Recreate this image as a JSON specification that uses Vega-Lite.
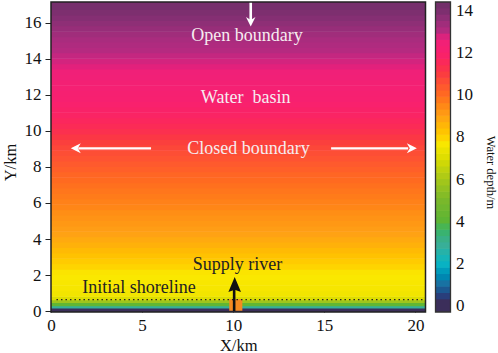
{
"$schema":"https://vega.github.io/schema/vega-lite/v6.json",
"background":"white",
"padding":{"left":2,"top":0,"right":0,"bottom":0},
"spacing":7.5,
"config":{"view":{"stroke":null},"font":"Liberation Serif","axis":{"labelFont":"Liberation Serif","titleFont":"Liberation Serif","grid":false,"labelOverlap":false,"labelBound":false,"labelFlush":false}},
"datasets":{"bands":[
{"y":-0.05,"y2":0.17,"depth":0},{"y":0.15,"y2":0.29,"depth":2.8},{"y":0.27,"y2":0.47,"depth":4.2},{"y":0.45,"y2":0.62,"depth":5.8},{"y":0.6,"y2":0.83,"depth":7},{"y":0.8,"y2":1.13,"depth":7.5},
{"y":1.1,"y2":1.43,"depth":7.6},{"y":1.4,"y2":1.73,"depth":7.65},{"y":1.7,"y2":2.03,"depth":7.7},{"y":2,"y2":2.33,"depth":7.75},{"y":2.3,"y2":2.63,"depth":7.95},{"y":2.6,"y2":2.93,"depth":8.1},{"y":2.9,"y2":3.23,"depth":8.3},{"y":3.2,"y2":3.53,"depth":8.45},{"y":3.5,"y2":3.83,"depth":8.65},{"y":3.8,"y2":4.13,"depth":8.8},{"y":4.1,"y2":4.43,"depth":8.95},{"y":4.4,"y2":4.73,"depth":9.05},{"y":4.7,"y2":5.03,"depth":9.15},{"y":5,"y2":5.33,"depth":9.25},{"y":5.3,"y2":5.63,"depth":9.35},{"y":5.6,"y2":5.93,"depth":9.5},{"y":5.9,"y2":6.23,"depth":9.6},{"y":6.2,"y2":6.53,"depth":9.7},{"y":6.5,"y2":6.83,"depth":9.8},{"y":6.8,"y2":7.13,"depth":9.9},{"y":7.1,"y2":7.43,"depth":10},{"y":7.4,"y2":7.73,"depth":10.1},{"y":7.7,"y2":8.03,"depth":10.25},{"y":8,"y2":8.33,"depth":10.35},{"y":8.3,"y2":8.63,"depth":10.5},{"y":8.6,"y2":8.93,"depth":10.6},{"y":8.9,"y2":9.23,"depth":10.75},{"y":9.2,"y2":9.53,"depth":10.9},{"y":9.5,"y2":9.83,"depth":11.1},{"y":9.8,"y2":10.13,"depth":11.3},{"y":10.1,"y2":10.43,"depth":11.45},{"y":10.4,"y2":10.73,"depth":11.6},{"y":10.7,"y2":11.03,"depth":11.75},{"y":11,"y2":11.33,"depth":11.85},{"y":11.3,"y2":11.63,"depth":11.95},{"y":11.6,"y2":11.93,"depth":12.05},{"y":11.9,"y2":12.23,"depth":12.15},{"y":12.2,"y2":12.53,"depth":12.25},{"y":12.5,"y2":12.83,"depth":12.35},{"y":12.8,"y2":13.13,"depth":12.5},{"y":13.1,"y2":13.43,"depth":12.6},{"y":13.4,"y2":13.73,"depth":12.7},{"y":13.7,"y2":14.03,"depth":12.8},{"y":14,"y2":14.33,"depth":12.9},{"y":14.3,"y2":14.63,"depth":13},{"y":14.6,"y2":14.93,"depth":13.1},{"y":14.9,"y2":15.23,"depth":13.2},{"y":15.2,"y2":15.53,"depth":13.35},{"y":15.5,"y2":15.83,"depth":13.5},{"y":15.8,"y2":16.13,"depth":13.65},{"y":16.1,"y2":16.43,"depth":13.8},{"y":16.4,"y2":16.73,"depth":13.95},{"y":16.7,"y2":17.15,"depth":14.15}
],
"bar":[
{"d":-0.3,"d2":0.33,"depth":0},{"d":0.3,"d2":0.63,"depth":0.45},{"d":0.6,"d2":0.93,"depth":0.75},{"d":0.9,"d2":1.23,"depth":1.05},{"d":1.2,"d2":1.53,"depth":1.35},{"d":1.5,"d2":1.83,"depth":1.65},{"d":1.8,"d2":2.13,"depth":1.95},{"d":2.1,"d2":2.43,"depth":2.25},{"d":2.4,"d2":2.73,"depth":2.55},{"d":2.7,"d2":3.03,"depth":2.85},{"d":3,"d2":3.33,"depth":3.15},{"d":3.3,"d2":3.63,"depth":3.45},{"d":3.6,"d2":3.93,"depth":3.75},{"d":3.9,"d2":4.23,"depth":4.05},{"d":4.2,"d2":4.53,"depth":4.35},{"d":4.5,"d2":4.83,"depth":4.65},{"d":4.8,"d2":5.13,"depth":4.95},{"d":5.1,"d2":5.43,"depth":5.25},{"d":5.4,"d2":5.73,"depth":5.55},{"d":5.7,"d2":6.03,"depth":5.85},{"d":6,"d2":6.33,"depth":6.15},{"d":6.3,"d2":6.63,"depth":6.45},{"d":6.6,"d2":6.93,"depth":6.75},{"d":6.9,"d2":7.23,"depth":7.05},{"d":7.2,"d2":7.53,"depth":7.35},{"d":7.5,"d2":7.83,"depth":7.65},{"d":7.8,"d2":8.13,"depth":7.95},{"d":8.1,"d2":8.43,"depth":8.25},{"d":8.4,"d2":8.73,"depth":8.55},{"d":8.7,"d2":9.03,"depth":8.85},{"d":9,"d2":9.33,"depth":9.15},{"d":9.3,"d2":9.63,"depth":9.45},{"d":9.6,"d2":9.93,"depth":9.75},{"d":9.9,"d2":10.23,"depth":10.05},{"d":10.2,"d2":10.53,"depth":10.35},{"d":10.5,"d2":10.83,"depth":10.65},{"d":10.8,"d2":11.13,"depth":10.95},{"d":11.1,"d2":11.43,"depth":11.25},{"d":11.4,"d2":11.73,"depth":11.55},{"d":11.7,"d2":12.03,"depth":11.85},{"d":12,"d2":12.33,"depth":12.15},{"d":12.3,"d2":12.63,"depth":12.45},{"d":12.6,"d2":12.93,"depth":12.75},{"d":12.9,"d2":13.23,"depth":13.05},{"d":13.2,"d2":13.53,"depth":13.35},{"d":13.5,"d2":13.83,"depth":13.65},{"d":13.8,"d2":14.13,"depth":13.95},{"d":14.1,"d2":14.4,"depth":14.25}
],
"frame":[{"x":0,"x2":20.55,"y":-0.05,"y2":17.15}],
"barframe":[{"a":0,"b":1,"d":-0.3,"d2":14.4}]
},
"hconcat":[
{"width":374.5,"height":310,
"layer":[
{"data":{"name":"bands"},"mark":{"type":"rect"},
"encoding":{
"x":{"datum":0,"type":"quantitative","scale":{"domain":[0,20.55],"nice":false,"zero":false},
"axis":{"values":[0,5,10,15,20],"tickSize":-6,"tickColor":"#222","tickWidth":1,"domain":false,"labelFontSize":17,"labelPadding":11,"labelColor":"#111","title":"X/km","titleFontSize":16.5,"titleFontWeight":"normal","titleColor":"#111","titlePadding":4}},
"x2":{"datum":20.55},
"y":{"field":"y","type":"quantitative","scale":{"domain":[-0.05,17.15],"nice":false,"zero":false},
"axis":{"values":[0,2,4,6,8,10,12,14,16],"tickSize":6,"tickColor":"#222","tickWidth":1,"domain":false,"labelFontSize":17,"labelPadding":4,"labelColor":"#111","title":"Y/km","titleFontSize":16.5,"titleFontWeight":"normal","titleColor":"#111","titlePadding":6,"titleY":160}},
"y2":{"field":"y2"},
"fill":{"field":"depth","type":"quantitative","legend":null,"scale":{"domain":[0,0.5,1,2,3,4,5,6,7,7.7,8,9,10,11,12,12.6,13,14,14.4],"range":["#3b2e5a","#24407f","#1b6fa0","#10b5c4","#40ae90","#5cb535","#7ab82a","#a8c818","#dddd00","#fae800","#ffd000","#ffa015","#ff6a20","#fa3a40","#f8206f","#f02078","#b52a80","#7a2f6e","#6f2f68"]}}
}},
{"data":{"values":[{"x":9.78,"x2":10.5,"y":0.02,"y2":0.66}]},"mark":{"type":"rect","color":"#f58a20"},
"encoding":{"x":{"field":"x","type":"quantitative","axis":null},"x2":{"field":"x2"},"y":{"field":"y","type":"quantitative","axis":null},"y2":{"field":"y2"}}},
{"data":{"values":[{"x":0.3,"y":0.64},{"x":20.4,"y":0.64}]},"mark":{"type":"line","color":"#222","strokeWidth":1.2,"strokeDash":[1.5,3]},
"encoding":{"x":{"field":"x","type":"quantitative","axis":null},"y":{"field":"y","type":"quantitative","axis":null}}},
{"data":{"values":[{"x":10.05,"y":0,"y2":1.4,"c":"k"},{"x":10.96,"y":17.15,"y2":16.1,"c":"w"}]},"mark":{"type":"rule","strokeWidth":2.6},
"encoding":{"x":{"field":"x","type":"quantitative","axis":null},"y":{"field":"y","type":"quantitative","axis":null},"y2":{"field":"y2"},"color":{"field":"c","type":"nominal","legend":null,"scale":{"domain":["k","w"],"range":["#111111","#ffffff"]}}}},
{"data":{"values":[{"x":5.49,"x2":1.5,"y":9.03},{"x":15.37,"x2":19.6,"y":9.03}]},"mark":{"type":"rule","strokeWidth":2.4,"color":"white"},
"encoding":{"x":{"field":"x","type":"quantitative","axis":null},"x2":{"field":"x2"},"y":{"field":"y","type":"quantitative","axis":null}}},
{"data":{"values":[{"x":10.08,"y":1.47}]},"mark":{"type":"point","filled":true,"color":"#111","opacity":1,"size":900,"shape":"M-0.42,0.5L0,-0.5L0.42,0.5L0,0.35Z"},
"encoding":{"x":{"field":"x","type":"quantitative","axis":null},"y":{"field":"y","type":"quantitative","axis":null}}},
{"data":{"values":[{"x":10.96,"y":16.05}]},"mark":{"type":"point","filled":true,"color":"white","opacity":1,"size":360,"shape":"M-0.5,-0.5L0,-0.2L0.5,-0.5L0,0.5Z"},
"encoding":{"x":{"field":"x","type":"quantitative","axis":null},"y":{"field":"y","type":"quantitative","axis":null}}},
{"data":{"values":[{"x":1.36,"y":9.03}]},"mark":{"type":"point","filled":true,"color":"white","opacity":1,"size":400,"shape":"M-0.5,0L0.5,-0.5L0.2,0L0.5,0.5Z"},
"encoding":{"x":{"field":"x","type":"quantitative","axis":null},"y":{"field":"y","type":"quantitative","axis":null}}},
{"data":{"values":[{"x":19.8,"y":9.03}]},"mark":{"type":"point","filled":true,"color":"white","opacity":1,"size":400,"shape":"M0.5,0L-0.5,-0.5L-0.2,0L-0.5,0.5Z"},
"encoding":{"x":{"field":"x","type":"quantitative","axis":null},"y":{"field":"y","type":"quantitative","axis":null}}},
{"data":{"values":[{"x":10.75,"y":15.26,"t":"Open boundary","c":"w"},{"x":10.68,"y":11.8,"t":"Water\u00a0\u00a0basin","c":"w"},{"x":10.84,"y":9,"t":"Closed boundary","c":"w"},{"x":10.24,"y":2.55,"t":"Supply river","c":"k"},{"x":4.83,"y":1.27,"t":"Initial shoreline","c":"k"}]},"mark":{"type":"text","font":"Liberation Serif","fontSize":18,"baseline":"middle","align":"center"},
"encoding":{"x":{"field":"x","type":"quantitative","axis":null},"y":{"field":"y","type":"quantitative","axis":null},"text":{"field":"t"},"color":{"field":"c","type":"nominal","legend":null,"scale":{"domain":["k","w"],"range":["#222222","#f6ecf0"]}}}},
{"data":{"name":"frame"},"mark":{"type":"rect","fill":null,"stroke":"#222","strokeWidth":1.5},
"encoding":{"x":{"field":"x","type":"quantitative","axis":null},"x2":{"field":"x2"},"y":{"field":"y","type":"quantitative","axis":null},"y2":{"field":"y2"}}}
],
"resolve":{"scale":{"color":"independent"},"axis":{"x":"independent","y":"independent"}}
},
{"width":15,"height":310,
"layer":[
{"data":{"name":"bar"},"mark":{"type":"rect"},
"encoding":{
"x":{"datum":0,"type":"quantitative","scale":{"domain":[0,1],"nice":false},"axis":null},
"x2":{"datum":1},
"y":{"field":"d","type":"quantitative","scale":{"domain":[-0.3,14.4],"nice":false,"zero":false},
"axis":{"orient":"right","values":[0,2,4,6,8,10,12,14],"tickSize":-3,"tickColor":"#333","tickWidth":1,"domain":false,"labelFontSize":17,"labelPadding":8,"labelColor":"#111","title":"Water depth/m","titleFontSize":12.5,"titleFontWeight":"normal","titleColor":"#111","titleAngle":90,"titleX":33,"titleY":170}},
"y2":{"field":"d2"},
"fill":{"field":"depth","type":"quantitative","legend":null,"scale":{"domain":[0,0.5,1,2,3,4,5,6,7,7.7,8,9,10,11,12,12.6,13,14,14.4],"range":["#3b2e5a","#24407f","#1b6fa0","#10b5c4","#40ae90","#5cb535","#7ab82a","#a8c818","#dddd00","#fae800","#ffd000","#ffa015","#ff6a20","#fa3a40","#f8206f","#f02078","#b52a80","#7a2f6e","#6f2f68"]}}
}},
{"data":{"name":"barframe"},"mark":{"type":"rect","fill":null,"stroke":"#333","strokeWidth":1.3},
"encoding":{"x":{"field":"a","type":"quantitative","axis":null},"x2":{"field":"b"},"y":{"field":"d","type":"quantitative","axis":null},"y2":{"field":"d2"}}}
],
"resolve":{"axis":{"x":"independent","y":"independent"}}
}
]
}
